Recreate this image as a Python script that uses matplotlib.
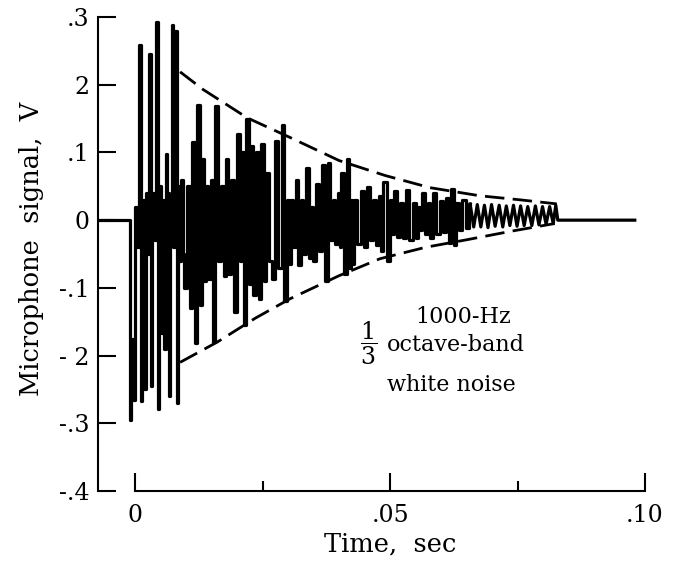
import numpy as np
import matplotlib.pyplot as plt

# microphone trace: time in ms, signal in V
sig_t = [-7.2, -1.2, -0.9, -0.6, -0.3, 0.1, 0.6, 1.0, 1.2, 1.6, 1.9, 2.2, 2.6, 2.9, 3.1,
         3.5, 3.9, 4.3, 4.5, 4.9, 5.2, 5.5, 5.8, 6.1, 6.4, 6.7, 7.0, 7.3, 7.6, 8.0, 8.2,
         8.5, 8.8, 9.2, 9.5, 9.8, 10.4, 11.0, 11.4, 12.0, 12.4,
         12.9, 13.3, 13.7, 14.1, 14.5, 15.1, 15.5, 15.9, 16.5, 17.1, 17.6, 18.0, 18.4,
         19.0, 19.6, 20.2, 20.8, 21.2, 21.6, 22.0, 22.5, 22.9, 23.5, 23.9, 24.5, 24.9,
         25.5, 25.9, 26.5, 27.1, 27.8, 28.4, 29.0, 29.4, 30.0, 30.4, 30.8, 31.2, 31.8,
         32.2, 32.7, 33.3, 33.7, 34.3, 34.7, 35.1, 35.9, 36.3, 36.9, 37.6, 38.0, 38.6,
         39.0, 39.4, 40.0, 40.3, 40.6, 41.2, 41.8, 42.1, 42.4, 42.7, 43.3, 43.9, 44.5,
         45.1, 45.7, 46.3, 46.9, 47.6, 48.1, 48.4, 49.0, 49.6, 50.2, 50.6, 51.0, 51.6,
         52.2, 52.9, 53.5, 54.1, 54.7, 55.3, 55.7, 56.1, 56.5, 57.1, 57.6, 58.2, 58.8,
         59.4, 60.0, 60.6, 61.2, 61.8, 62.2, 62.7, 63.3, 63.9, 64.5, 65.1, 65.7, 66.4,
         67.1, 67.8, 68.5, 69.2, 69.9, 70.6, 71.4, 72.1, 72.8, 73.5, 74.2, 74.9, 75.6,
         76.3, 77.0, 77.8, 78.5, 79.2, 79.9, 80.6, 81.3, 82.0, 82.5, 82.9, 98.0]
sig_v = [0.0, 0.0, -0.295, -0.175, -0.265, 0.02, -0.04, 0.258, -0.267, 0.03, -0.25,
         0.04, -0.05, 0.246, -0.245, 0.04, -0.03, 0.293, -0.279, 0.05, -0.167, 0.03,
         -0.19, 0.097, 0.04, -0.26, -0.03, 0.288, -0.04, 0.28, -0.27, 0.05, -0.06, 0.06,
         -0.05, -0.10, 0.05, -0.13, 0.116, -0.182, 0.17, -0.125, 0.09, -0.09, 0.05, -0.087,
         0.06, -0.18, 0.168, -0.06, 0.05, -0.082, 0.09, -0.08, 0.06, -0.135, 0.127,
         -0.06, 0.10, -0.155, 0.149, -0.095, 0.11, -0.11, 0.10, -0.117, 0.113, -0.09,
         0.07, -0.06, -0.087, 0.117, -0.07, 0.14, -0.12, 0.03, -0.065, 0.03, -0.04,
         0.06, -0.066, 0.03, -0.05, 0.077, -0.056, 0.02, -0.06, 0.054, -0.045, 0.082,
         -0.09, 0.084, -0.03, 0.03, -0.035, 0.04, -0.04, 0.069, -0.08, 0.09, -0.07,
         0.03, -0.065, 0.03, -0.035, 0.043, -0.04, 0.049, -0.03, 0.03, -0.036, 0.035,
         -0.046, 0.057, -0.061, 0.03, -0.02, 0.043, -0.025, 0.025, -0.027, 0.045, -0.03,
         0.025, -0.027, 0.02, -0.015, 0.04, -0.02, 0.025, -0.027, 0.04, -0.02, 0.028,
         -0.018, 0.033, -0.034, 0.046, -0.037, 0.025, -0.015, 0.03, -0.012, 0.024,
         -0.010, 0.023, -0.010, 0.022, -0.011, 0.023, -0.009, 0.022, -0.010, 0.021,
         -0.008, 0.022, -0.009, 0.021, -0.008, 0.020, -0.008, 0.021, -0.007, 0.020,
         -0.006, 0.020, -0.005, 0.022, 0.0, 0.0]
tail_start = 65.7  # from here on the trace is a clean ringing tone

# dashed decay envelope
env_up_t = [8.8, 13.3, 22.0, 30.4, 40.0, 49.0, 57.8, 67.6, 75.5, 82.7]
env_up_v = [0.219, 0.193, 0.151, 0.122, 0.088, 0.066, 0.048, 0.036, 0.030, 0.024]
env_lo_t = [8.8, 16.1, 23.5, 30.4, 40.0, 48.0, 57.0, 65.0, 74.0, 82.3]
env_lo_v = [-0.210, -0.180, -0.145, -0.116, -0.082, -0.057, -0.040, -0.029, -0.016, -0.005]

yticks = [0.3, 0.2, 0.1, 0.0, -0.1, -0.2, -0.3, -0.4]
ylabels = [".3", "2", ".1", "0", "-.1", "- 2", "-.3", "-.4"]
xticks = [0.0, 0.05, 0.10]
xlabels = ["0", ".05", ".10"]
xminor = [0.025, 0.075]

plt.rcParams["font.family"] = "DejaVu Serif"
plt.rcParams["mathtext.fontset"] = "dejavuserif"

fig = plt.figure(figsize=(6.77, 5.71), dpi=100)
ax = fig.add_axes([0.1448, 0.1401, 0.8079, 0.8301])

t = np.array(sig_t)
v = np.array(sig_v)
head = t <= tail_start
tail = t >= tail_start
ax.plot(t[head] / 1000, v[head], color="black", lw=2.3, drawstyle="steps-mid")
ax.plot(t[tail] / 1000, v[tail], color="black", lw=2.3)
ax.plot(np.array(env_up_t) / 1000, env_up_v, color="black", lw=2, dashes=(7, 3))
ax.plot(np.array(env_lo_t) / 1000, env_lo_v, color="black", lw=2, dashes=(7, 3))

ax.set_xlim(-0.0073, 0.1)
ax.set_ylim(-0.4, 0.3)

for s in ["top", "right"]:
    ax.spines[s].set_visible(False)
ax.spines["left"].set_bounds(-0.4, 0.3)
ax.spines["bottom"].set_bounds(0, 0.1)
ax.spines["left"].set_linewidth(1.5)
ax.spines["bottom"].set_linewidth(1.5)

ax.set_yticks(yticks)
ax.set_yticklabels(ylabels)
ax.set_xticks(xticks)
ax.set_xticklabels(xlabels)
ax.set_xticks(xminor, minor=True)
ax.tick_params(axis="y", direction="in", length=13, width=1.5, pad=6, labelsize=17)
ax.tick_params(axis="x", which="major", direction="in", length=13, width=1.5, pad=9,
               labelsize=17)
ax.tick_params(axis="x", which="minor", direction="in", length=7, width=1.5)

ax.set_xlabel("Time,  sec", fontsize=18.5)
ax.xaxis.set_label_coords(0.534, -0.085)
ax.set_ylabel("Microphone  signal,  V", fontsize=18.5)
ax.yaxis.set_label_coords(-0.098, 0.51)

ax.text(0.0549, -0.143, "1000-Hz", fontsize=16, va="center")
ax.text(0.0457, -0.182, r"$\dfrac{1}{3}$", fontsize=17, va="center", ha="center")
ax.text(0.0494, -0.185, "octave-band", fontsize=16, va="center")
ax.text(0.0494, -0.244, "white noise", fontsize=16, va="center")

fig.savefig("out.png", dpi=100)
